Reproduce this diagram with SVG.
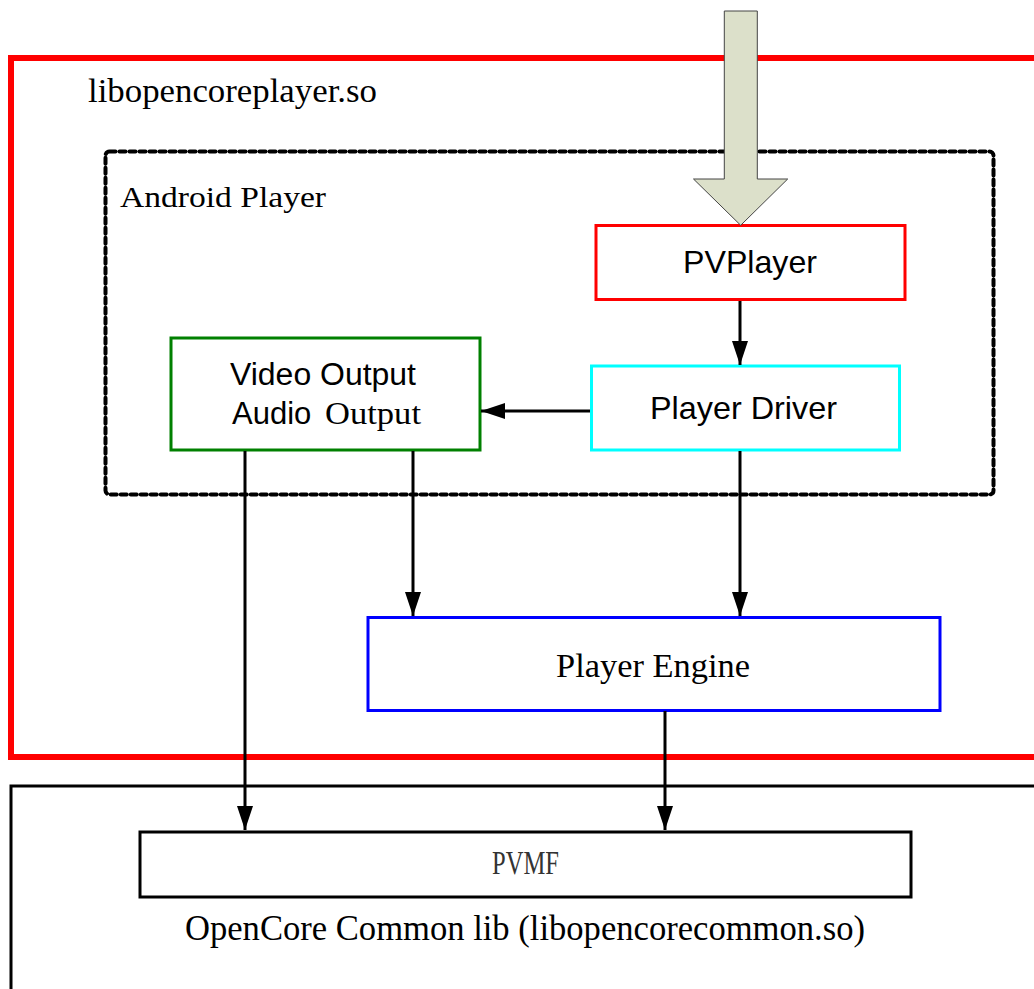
<svg xmlns="http://www.w3.org/2000/svg" width="1034" height="989" viewBox="0 0 1034 989">
<style>
.sans{font-family:"Liberation Sans",Arial,sans-serif;fill:#000}
.serif{font-family:"Liberation Serif","Times New Roman",serif;fill:#000}
.box{fill:#fff;stroke-width:3}
.conn{stroke:#000;stroke-width:3;fill:none}
</style>
<defs>
<marker id="a" viewBox="0 0 24 16" refX="24" refY="8" markerWidth="24" markerHeight="16" orient="auto" markerUnits="userSpaceOnUse">
<path d="M0,0 L24,8 L0,16 Z" fill="#000"/>
</marker>
</defs>
<rect width="1034" height="989" fill="#fff"/>
<g id="opencore-common">
<rect x="11" y="786" width="1040" height="220" fill="none" stroke="#000" stroke-width="3"/>
<text class="serif" x="185" y="940" font-size="35" textLength="680" lengthAdjust="spacingAndGlyphs">OpenCore Common lib (libopencorecommon.so)</text>
</g>
<g id="libopencoreplayer">
<rect x="11" y="58" width="1040" height="699" fill="none" stroke="#f00" stroke-width="6"/>
<text class="serif" x="88" y="102" font-size="33" textLength="289" lengthAdjust="spacingAndGlyphs">libopencoreplayer.so</text>
</g>
<g id="android-player">
<rect x="105.5" y="151.5" width="888" height="343" rx="4" fill="none" stroke="#000" stroke-width="4" stroke-dasharray="6 4" stroke-linecap="round"/>
<text class="serif" x="120" y="207" font-size="30" textLength="206" lengthAdjust="spacingAndGlyphs">Android Player</text>
</g>
<g id="pvmf">
<rect class="box" x="140" y="832" width="771" height="65" stroke="#000"/>
<text x="492" y="874" font-size="33" textLength="67" lengthAdjust="spacingAndGlyphs" style="font-family:'Liberation Serif',serif;fill:#333">PVMF</text>
</g>
<g id="player-engine">
<rect class="box" x="368" y="617.5" width="572" height="93" stroke="#00f"/>
<text class="serif" x="556" y="677" font-size="33" textLength="194" lengthAdjust="spacingAndGlyphs">Player Engine</text>
</g>
<g id="video-audio-output">
<rect class="box" x="171" y="338" width="309" height="112" stroke="#008000"/>
<text class="sans" x="230" y="385" font-size="31" textLength="186" lengthAdjust="spacingAndGlyphs">Video Output</text>
<text class="sans" x="232" y="424" font-size="31">Audio</text>
<text class="serif" x="325" y="424" font-size="31" textLength="96" lengthAdjust="spacingAndGlyphs">Output</text>
</g>
<g id="player-driver">
<rect class="box" x="591.5" y="366" width="308" height="84" stroke="#0ff"/>
<text class="sans" x="650" y="419" font-size="32" textLength="187" lengthAdjust="spacingAndGlyphs">Player Driver</text>
</g>
<g id="pvplayer">
<rect class="box" x="596" y="225.5" width="309" height="74" stroke="#f00"/>
<text class="sans" x="683" y="273" font-size="32" textLength="134" lengthAdjust="spacingAndGlyphs">PVPlayer</text>
</g>
<g id="connectors">
<path class="conn" d="M740,301 V365" marker-end="url(#a)"/>
<path class="conn" d="M590,411 H481" marker-end="url(#a)"/>
<path class="conn" d="M413,451 V616" marker-end="url(#a)"/>
<path class="conn" d="M740,451 V616" marker-end="url(#a)"/>
<path class="conn" d="M245,451 V830" marker-end="url(#a)"/>
<path class="conn" d="M665,711 V830" marker-end="url(#a)"/>
<path d="M724.3,11 H757.3 V179 H787.7 L740.7,225.3 L693.5,179 H724.3 Z" fill="#dce0ca" stroke="#444" stroke-width="1"/>
</g>
</svg>
